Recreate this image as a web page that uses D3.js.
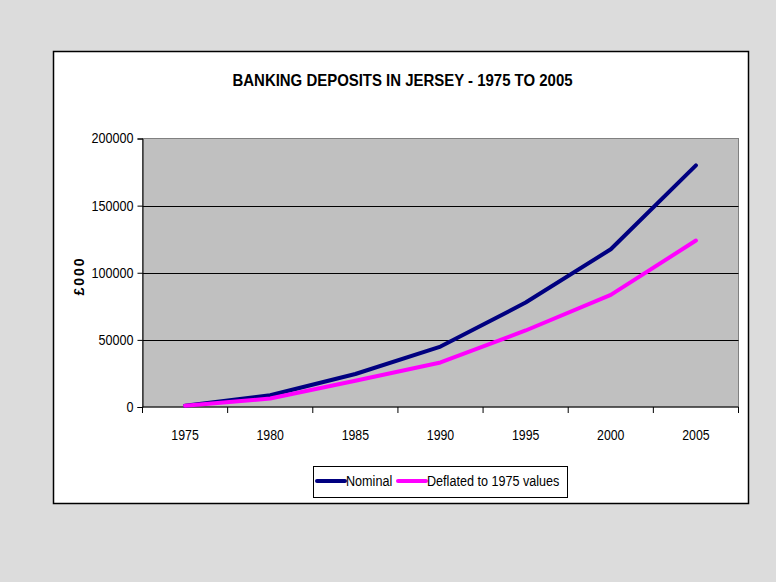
<!DOCTYPE html>
<html>
<head>
<meta charset="utf-8">
<script src="https://cdn.jsdelivr.net/npm/d3@7"></script>
<style>
  html, body { margin: 0; padding: 0; background: #dcdcdc; }
  svg { display: block; font-family: "Liberation Sans", Arial, sans-serif; }
</style>
</head>
<body>
<svg id="chart" width="776" height="582"></svg>
<script>
// Banking deposits in Jersey, £000
const years = ["1975", "1980", "1985", "1990", "1995", "2000", "2005"];
const nominal = [1000, 8800, 24600, 45000, 77800, 117500, 180000];
const deflated = [1000, 6300, 19500, 33200, 57000, 83500, 124000];
const yTicks = [0, 50000, 100000, 150000, 200000];
const seriesNames = ["Nominal", "Deflated to 1975 values"];
const seriesColors = ["#000080", "#ff00ff"];

const svg = d3.select("#chart");

// narrow the glyphs slightly, the way the spreadsheet renders its Arial
function condense(sel, ratio) {
  sel.each(function () {
    const w = this.getComputedTextLength();
    d3.select(this).attr("textLength", w * ratio).attr("lengthAdjust", "spacingAndGlyphs");
  });
}

// outer page background and white chart panel
svg.append("rect").attr("x", 0).attr("y", 0).attr("width", 776).attr("height", 582).attr("fill", "#dcdcdc");
svg.append("rect").attr("x", 53.5).attr("y", 51.5).attr("width", 695).attr("height", 452)
  .attr("fill", "#ffffff").attr("stroke", "#000").attr("stroke-width", 1.5);

const plot = { left: 142.5, right: 738.5, top: 138.5, bottom: 407 };

const x = d3.scaleBand().domain(years).range([plot.left, plot.right]).padding(0);
const y = d3.scaleLinear().domain([0, 200000]).range([plot.bottom, plot.top]);

// plot area
svg.append("rect")
  .attr("x", plot.left).attr("y", plot.top)
  .attr("width", plot.right - plot.left).attr("height", plot.bottom - plot.top)
  .attr("fill", "#c0c0c0").attr("stroke", "#808080").attr("stroke-width", 1);

// horizontal gridlines
svg.append("g").selectAll("line")
  .data(yTicks.filter(v => v > 0 && v < 200000))
  .join("line")
  .attr("x1", plot.left).attr("x2", plot.right)
  .attr("y1", d => Math.round(y(d)) + 0.5).attr("y2", d => Math.round(y(d)) + 0.5)
  .attr("stroke", "#000").attr("stroke-width", 1);

// y axis
const yAxis = d3.axisLeft(y).tickValues(yTicks).tickSize(5).tickPadding(4).tickFormat(d3.format("d"));
const gy = svg.append("g").attr("transform", `translate(${plot.left},0)`).call(yAxis);
gy.select(".domain").attr("stroke", "#000");
gy.selectAll(".tick line").attr("stroke", "#000");
gy.selectAll("text").attr("font-size", 14).attr("fill", "#000")
  .attr("font-family", "Liberation Sans, Arial, sans-serif")
  .call(condense, 0.9);

// x axis: ticks sit on category boundaries, labels at category centres
const gx = svg.append("g").attr("transform", `translate(0,${plot.bottom})`);
gx.append("line").attr("x1", plot.left).attr("x2", plot.right).attr("y1", 0).attr("y2", 0).attr("stroke", "#000");
const boundaries = years.map(d => x(d)).concat([x(years[years.length - 1]) + x.bandwidth()]);
gx.selectAll("line.tk").data(boundaries).join("line").attr("class", "tk")
  .attr("x1", d => d).attr("x2", d => d).attr("y1", 0).attr("y2", 6).attr("stroke", "#000");
gx.selectAll("text").data(years).join("text")
  .attr("x", d => x(d) + x.bandwidth() / 2).attr("y", 33)
  .attr("text-anchor", "middle").attr("font-size", 14).attr("fill", "#000")
  .text(d => d)
  .call(condense, 0.88);

// y axis title
svg.append("text")
  .attr("transform", "translate(84,277) rotate(-90)")
  .attr("text-anchor", "middle").attr("font-size", 14).attr("font-weight", "bold")
  .attr("textLength", 37).attr("lengthAdjust", "spacing")
  .text("£000");

// title
svg.append("text")
  .attr("x", 402.5).attr("y", 86).attr("text-anchor", "middle")
  .attr("font-size", 16.5).attr("font-weight", "bold")
  .attr("textLength", 340).attr("lengthAdjust", "spacingAndGlyphs")
  .text("BANKING DEPOSITS IN JERSEY - 1975 TO 2005");

// series lines
const line = d3.line()
  .x((d, i) => x(years[i]) + x.bandwidth() / 2)
  .y(d => y(d));

[nominal, deflated].forEach((vals, k) => {
  svg.append("path")
    .datum(vals)
    .attr("d", line)
    .attr("fill", "none")
    .attr("stroke", seriesColors[k])
    .attr("stroke-width", 4)
    .attr("stroke-linejoin", "round")
    .attr("stroke-linecap", "round");
});

// legend
const lg = svg.append("g");
lg.append("rect").attr("x", 313.5).attr("y", 466.5).attr("width", 254).attr("height", 31)
  .attr("fill", "#fff").attr("stroke", "#000").attr("stroke-width", 1);
const legendItems = [
  { name: seriesNames[0], color: seriesColors[0], x0: 317, x1: 345, tx: 346 },
  { name: seriesNames[1], color: seriesColors[1], x0: 398, x1: 426, tx: 427 }
];
legendItems.forEach(it => {
  lg.append("line").attr("x1", it.x0).attr("x2", it.x1).attr("y1", 481).attr("y2", 481)
    .attr("stroke", it.color).attr("stroke-width", 4).attr("stroke-linecap", "round");
  lg.append("text").attr("x", it.tx).attr("y", 486).attr("font-size", 14).attr("fill", "#000")
    .text(it.name)
    .call(condense, 0.9);
});
</script>
</body>
</html>
